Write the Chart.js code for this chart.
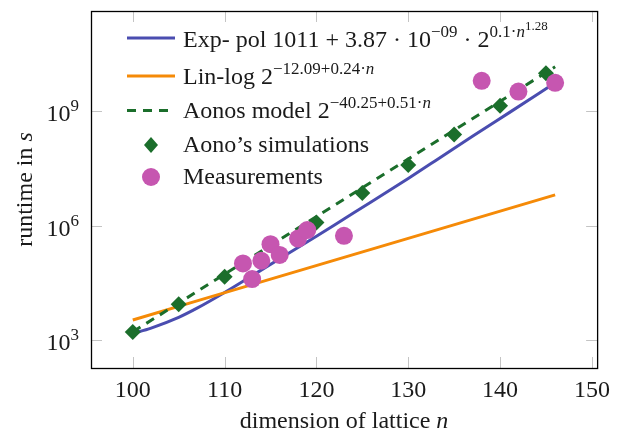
<!DOCTYPE html>
<html>
<head>
<meta charset="utf-8">
<script src="https://cdn.jsdelivr.net/npm/chart.js@4.4.1/dist/chart.umd.min.js"></script>
<style>
  html, body { margin: 0; padding: 0; background: #fff; }
  canvas { display: block; }
</style>
</head>
<body>
<canvas id="chart" width="618" height="434"></canvas>
<script>
// Axis ticks
const xTicks = [100, 110, 120, 130, 140, 150];
const yTicks = [1e3, 1e6, 1e9];
const yTickExp = ['3', '6', '9'];

// Exp-pol fit (blue curve)
const expPolN = [100, 102, 105, 107, 110, 113, 116, 120, 123, 126, 130, 133, 137, 141, 145.5];
const expPolT = [1.51e3, 2.09e3, 3.98e3, 6.92e3, 1.78e4, 4.9e4, 1.35e5, 5.25e5, 1.48e6, 4.17e6, 1.7e7, 5.01e7, 2.14e8, 8.91e8, 4.47e9];

// Lin-log fit (orange line)
const linLogN = [100, 107, 146];
const linLogT = [3.39e3, 1.07e4, 6.31e6];

// Aono model (green dashed line)
const aonoModelN = [100, 146];
const aonoModelT = [1.66e3, 1.41e10];

// Aono's simulations (diamonds)
const aonoSimN = [100, 105, 110, 120, 125, 130, 135, 140, 145];
const aonoSimT = [1.66e3, 8.7e3, 4.57e4, 1.2e6, 7.08e6, 3.8e7, 2.4e8, 1.35e9, 9.55e9];

// Measurements (circles)
const measN = [112, 113, 114, 115, 116, 118, 119, 123, 138, 142, 146];
const measT = [1.02e5, 3.98e4, 1.2e5, 3.24e5, 1.7e5, 4.57e5, 7.59e5, 5.37e5, 6.03e9, 3.16e9, 5.37e9];

const FONT = '"Liberation Serif", "DejaVu Serif", serif';
const BLUE = '#4a4db0';
const ORANGE = '#f58a07';
const GREEN = '#1b6e2b';
const MAGENTA = '#c656b0';

function pts(xs, ys) {
    return xs.map((x, i) => ({ x: x, y: ys[i] }));
}

// draw a string made of pieces, some raised as superscripts
function drawRich(ctx, segs, x, y) {
    segs.forEach(s => {
        const lvl = s.s || 0;
        const size = lvl === 0 ? 24 : (lvl === 1 ? 17 : 13);
        const raise = lvl === 0 ? 0 : (lvl === 1 ? 10 : 17);
        ctx.font = (s.i ? 'italic ' : '') + size + 'px ' + FONT;
        ctx.fillText(s.t, x, y - raise);
        x += ctx.measureText(s.t).width;
    });
    return x;
}

// Frame, inner tick marks, y tick labels, axis titles and legend
const decorPlugin = {
    id: 'decor',
    afterDatasetsDraw(chart) {
        const ctx = chart.ctx;
        const a = chart.chartArea;
        const xs = chart.scales.x, ys = chart.scales.y;
        ctx.save();

        // inner tick marks
        ctx.strokeStyle = '#c4c4c4';
        ctx.lineWidth = 1;
        ctx.beginPath();
        xTicks.forEach(v => {
            const px = Math.round(xs.getPixelForValue(v)) + 0.5;
            ctx.moveTo(px, a.top); ctx.lineTo(px, a.top + 11);
            ctx.moveTo(px, a.bottom); ctx.lineTo(px, a.bottom - 11);
        });
        yTicks.forEach(v => {
            const py = Math.round(ys.getPixelForValue(v)) + 0.5;
            ctx.moveTo(a.left, py); ctx.lineTo(a.left + 11, py);
            ctx.moveTo(a.right, py); ctx.lineTo(a.right - 11, py);
        });
        ctx.stroke();

        // frame
        ctx.strokeStyle = '#000';
        ctx.lineWidth = 1.3;
        ctx.strokeRect(a.left + 0.5, a.top + 0.5, a.right - a.left, a.bottom - a.top);

        // y tick labels 10^k
        ctx.fillStyle = '#1a1a1a';
        ctx.textAlign = 'left';
        ctx.textBaseline = 'alphabetic';
        yTicks.forEach((v, i) => {
            const py = ys.getPixelForValue(v);
            ctx.font = '24px ' + FONT;
            const w1 = ctx.measureText('10').width;
            ctx.font = '17px ' + FONT;
            const w2 = ctx.measureText(yTickExp[i]).width;
            drawRich(ctx, [{ t: '10' }, { t: yTickExp[i], s: 1 }], a.left - 12 - w1 - w2, py + 10);
        });

        // x axis title
        const t1 = 'dimension of lattice ';
        ctx.font = '24px ' + FONT;
        const w1 = ctx.measureText(t1).width;
        ctx.font = 'italic 24px ' + FONT;
        const w2 = ctx.measureText('n').width;
        const cx = (a.left + a.right) / 2;
        drawRich(ctx, [{ t: t1 }, { t: 'n', i: 1 }], cx - (w1 + w2) / 2, 428);

        // y axis title
        ctx.save();
        ctx.translate(32, (a.top + a.bottom) / 2);
        ctx.rotate(-Math.PI / 2);
        ctx.font = '24px ' + FONT;
        const r1 = ctx.measureText('runtime in ').width;
        ctx.font = 'italic 24px ' + FONT;
        const r2 = ctx.measureText('s').width;
        drawRich(ctx, [{ t: 'runtime in ' }, { t: 's', i: 1 }], -(r1 + r2) / 2, 0);
        ctx.restore();

        // legend
        const rowMarkY = [38, 76, 110.5, 145, 177];
        const rowTextY = [47, 84, 118, 152, 184];
        chart.data.datasets.forEach((ds, i) => {
            const my = rowMarkY[i];
            if (ds.showLine) {
                ctx.strokeStyle = ds.borderColor;
                ctx.lineWidth = ds.borderWidth;
                ctx.setLineDash(ds.borderDash || []);
                ctx.beginPath();
                ctx.moveTo(127, my);
                ctx.lineTo(175, my);
                ctx.stroke();
                ctx.setLineDash([]);
            } else {
                ctx.fillStyle = ds.pointBackgroundColor;
                ctx.beginPath();
                if (ds.pointStyle === 'rectRot') {
                    ctx.moveTo(151, my - 8);
                    ctx.lineTo(158, my);
                    ctx.lineTo(151, my + 8);
                    ctx.lineTo(144, my);
                    ctx.closePath();
                } else {
                    ctx.arc(151, my, 9, 0, Math.PI * 2);
                }
                ctx.fill();
            }
            ctx.fillStyle = '#1a1a1a';
            drawRich(ctx, ds.richLabel, 183, rowTextY[i]);
        });

        ctx.restore();
    }
};

new Chart(document.getElementById('chart'), {
    type: 'scatter',
    data: {
        datasets: [{
            label: 'Exp- pol',
            richLabel: [{ t: 'Exp- pol 1011 + 3.87 · 10' }, { t: '−09', s: 1 }, { t: ' · 2' }, { t: '0.1·', s: 1 }, { t: 'n', s: 1, i: 1 }, { t: '1.28', s: 2 }],
            data: pts(expPolN, expPolT),
            showLine: true,
            borderColor: BLUE,
            borderWidth: 3,
            pointRadius: 0,
            cubicInterpolationMode: 'monotone',
            order: 5
        }, {
            label: 'Lin-log',
            richLabel: [{ t: 'Lin-log 2' }, { t: '−12.09+0.24·', s: 1 }, { t: 'n', s: 1, i: 1 }],
            data: pts(linLogN, linLogT),
            showLine: true,
            borderColor: ORANGE,
            borderWidth: 3,
            pointRadius: 0,
            order: 4
        }, {
            label: 'Aonos model',
            richLabel: [{ t: 'Aonos model 2' }, { t: '−40.25+0.51·', s: 1 }, { t: 'n', s: 1, i: 1 }],
            data: pts(aonoModelN, aonoModelT),
            showLine: true,
            borderColor: GREEN,
            borderWidth: 3,
            borderDash: [9, 7],
            pointRadius: 0,
            order: 3
        }, {
            label: 'Aono’s simulations',
            richLabel: [{ t: 'Aono’s simulations' }],
            data: pts(aonoSimN, aonoSimT),
            showLine: false,
            pointStyle: 'rectRot',
            pointRadius: 8,
            pointBorderWidth: 0,
            pointBackgroundColor: GREEN,
            pointBorderColor: GREEN,
            order: 2
        }, {
            label: 'Measurements',
            richLabel: [{ t: 'Measurements' }],
            data: pts(measN, measT),
            showLine: false,
            pointStyle: 'circle',
            pointRadius: 9,
            pointBorderWidth: 0,
            pointBackgroundColor: MAGENTA,
            pointBorderColor: MAGENTA,
            order: 1
        }]
    },
    options: {
        responsive: false,
        animation: false,
        devicePixelRatio: 1,
        layout: { padding: { left: 0, right: 12, top: 11, bottom: 0 } },
        plugins: {
            legend: { display: false },
            tooltip: { enabled: false }
        },
        scales: {
            x: {
                type: 'linear',
                min: 95.45,
                max: 150.57,
                afterBuildTicks: s => { s.ticks = xTicks.map(v => ({ value: v })); },
                afterFit: s => { s.height = 66; },
                grid: { display: false, drawTicks: false },
                border: { display: false },
                ticks: {
                    color: '#1a1a1a',
                    font: { family: FONT, size: 24 },
                    padding: 8,
                    maxRotation: 0
                }
            },
            y: {
                type: 'logarithmic',
                min: 189,
                max: 4.03e11,
                afterBuildTicks: s => { s.ticks = yTicks.map(v => ({ value: v })); },
                afterFit: s => { s.width = 91; },
                grid: { display: false, drawTicks: false },
                border: { display: false },
                ticks: { display: false }
            }
        }
    },
    plugins: [decorPlugin]
});
</script>
</body>
</html>
